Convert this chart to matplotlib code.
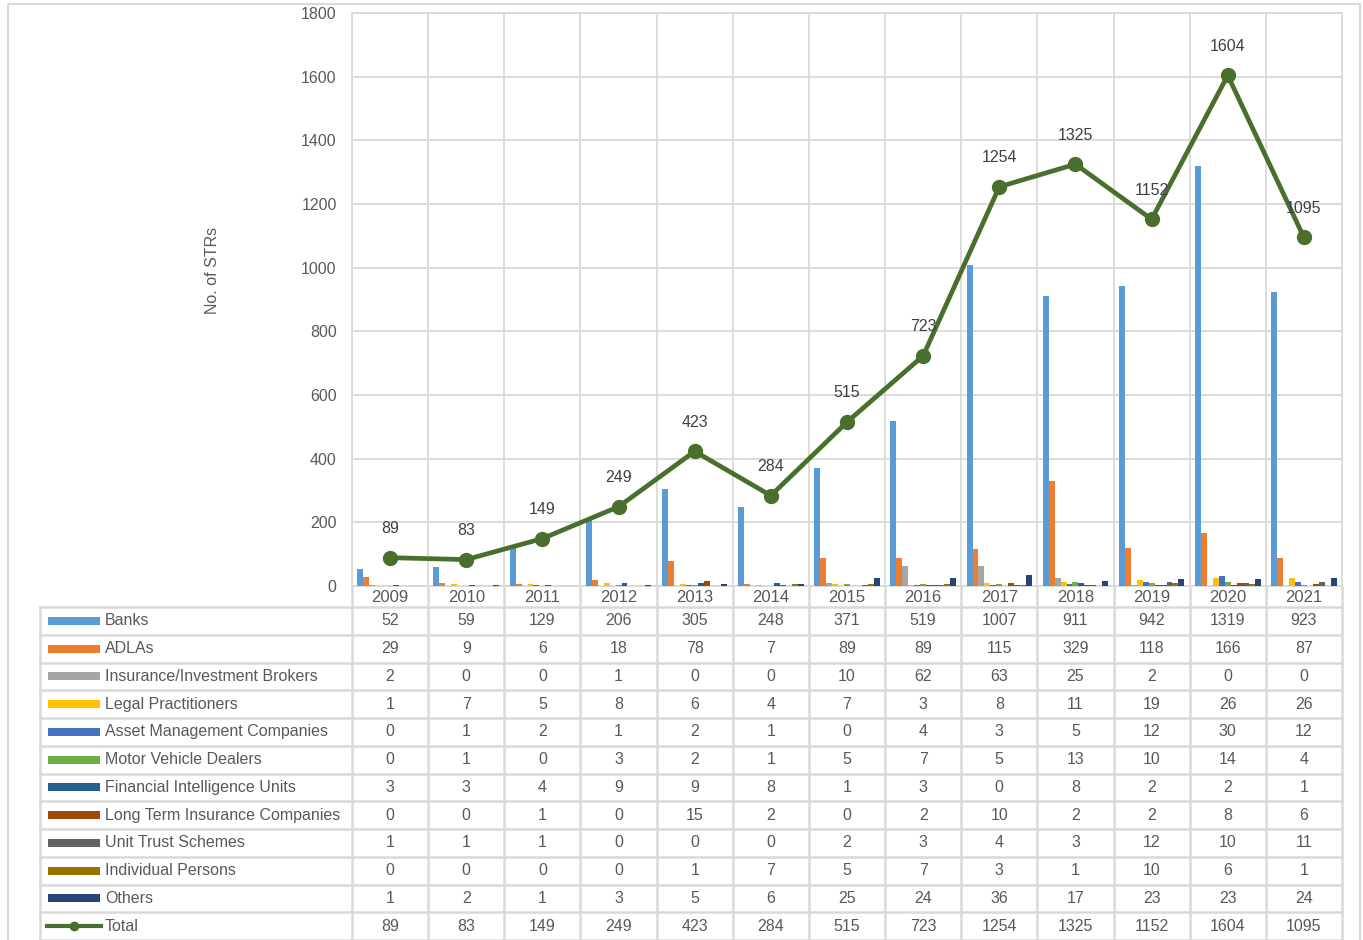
import numpy as np
import matplotlib
matplotlib.use("Agg")
import matplotlib.pyplot as plt
from matplotlib.patches import Rectangle

# ---------- DATA ----------
years = ["2009", "2010", "2011", "2012", "2013", "2014", "2015",
         "2016", "2017", "2018", "2019", "2020", "2021"]

series_names = [
    "Banks", "ADLAs", "Insurance/Investment Brokers", "Legal Practitioners",
    "Asset Management Companies", "Motor Vehicle Dealers",
    "Financial Intelligence Units", "Long Term Insurance Companies",
    "Unit Trust Schemes", "Individual Persons", "Others",
]

banks       = [52, 59, 129, 206, 305, 248, 371, 519, 1007, 911, 942, 1319, 923]
adlas       = [29, 9, 6, 18, 78, 7, 89, 89, 115, 329, 118, 166, 87]
insurance   = [2, 0, 0, 1, 0, 0, 10, 62, 63, 25, 2, 0, 0]
legal       = [1, 7, 5, 8, 6, 4, 7, 3, 8, 11, 19, 26, 26]
asset_mgmt  = [0, 1, 2, 1, 2, 1, 0, 4, 3, 5, 12, 30, 12]
motor       = [0, 1, 0, 3, 2, 1, 5, 7, 5, 13, 10, 14, 4]
fiu         = [3, 3, 4, 9, 9, 8, 1, 3, 0, 8, 2, 2, 1]
long_term   = [0, 0, 1, 0, 15, 2, 0, 2, 10, 2, 2, 8, 6]
unit_trust  = [1, 1, 1, 0, 0, 0, 2, 3, 4, 3, 12, 10, 11]
individual  = [0, 0, 0, 0, 1, 7, 5, 7, 3, 1, 10, 6, 1]
others      = [1, 2, 1, 3, 5, 6, 25, 24, 36, 17, 23, 23, 24]
total       = [89, 83, 149, 249, 423, 284, 515, 723, 1254, 1325, 1152, 1604, 1095]

series_values = [banks, adlas, insurance, legal, asset_mgmt, motor,
                 fiu, long_term, unit_trust, individual, others]

# ---------- STYLE ----------
COLORS = ["#5B9BD5", "#ED7D31", "#A5A5A5", "#FFC000", "#4472C4", "#70AD47",
          "#255E91", "#9E480E", "#636363", "#997300", "#264478"]
LINE_COLOR = "#4A6F2C"
GRID = "#D9D9D9"
TXT = "#595959"
FS = 11.5

plt.rcParams["font.family"] = ["Liberation Sans", "DejaVu Sans"]

W, H = 1363, 940
fig = plt.figure(figsize=(W / 100, H / 100), dpi=100)
fig.patch.set_facecolor("white")

# plot area in pixels
PL, PR, PT, PB = 352, 1342, 13, 586
ax = fig.add_axes([PL / W, 1 - PB / H, (PR - PL) / W, (PB - PT) / H])

n = len(years)
x = np.arange(n)
nser = len(series_values)
cluster = 0.86
bw = cluster / nser
for k, (vals, col) in enumerate(zip(series_values, COLORS)):
    off = -cluster / 2 + bw * (k + 0.5)
    ax.bar(x + off, vals, width=bw, color=col, zorder=3, linewidth=0)

ax.plot(x, total, color=LINE_COLOR, lw=3.4, marker="o", ms=10,
        markerfacecolor=LINE_COLOR, markeredgecolor=LINE_COLOR, zorder=5)
for xi, v in zip(x, total):
    ax.annotate(str(v), (xi, v), xytext=(0, 21), textcoords="offset points",
                ha="center", va="center", fontsize=FS, color="#404040", zorder=6)

ax.set_xlim(-0.5, n - 0.5)
ax.set_ylim(0, 1800)
ax.set_yticks(range(0, 1801, 200))
ax.set_xticks(np.arange(-0.5, n, 1.0))
ax.set_xticklabels([])
ax.tick_params(axis="both", length=0, labelsize=FS, labelcolor=TXT)
ax.tick_params(axis="y", pad=11)
ax.grid(True, color=GRID, lw=1.3, zorder=0)
for sp in ax.spines.values():
    sp.set_color(GRID)
    sp.set_linewidth(1.3)

fig.text(212 / W, 1 - 270 / H, "No. of STRs", rotation=90, ha="center",
         va="center", fontsize=FS, color=TXT)

# ---------- DATA TABLE (overlay in pixel coords) ----------
ov = fig.add_axes([0, 0, 1, 1], zorder=10)
ov.set_xlim(0, W)
ov.set_ylim(H, 0)
ov.axis("off")
ov.patch.set_alpha(0)

col_w = (PR - PL) / n
centers = [PL + col_w * (i + 0.5) for i in range(n)]
hdr_bot = 607
row_h = (940 - hdr_bot) / 12
TL = 40

# header row (years)
for c, yr in zip(centers, years):
    ov.text(c, (PB + hdr_bot) / 2 + 1, yr, ha="center", va="center",
            fontsize=12, color=TXT)

# grid lines
lw = 1.8
for i in range(n + 1):
    xx = PL + col_w * i
    ov.plot([xx, xx], [PB, H], color=GRID, lw=lw, solid_capstyle="butt")
for r in range(13):
    yy = hdr_bot + row_h * r
    ov.plot([TL, PR], [yy, yy], color=GRID, lw=lw)
ov.plot([TL, TL], [hdr_bot, H], color=GRID, lw=lw)

rows = list(zip(series_names, series_values, COLORS))
for r, (name, vals, col) in enumerate(rows):
    yc = hdr_bot + row_h * (r + 0.5)
    ov.add_patch(Rectangle((48, yc - 4), 52, 8, color=col, lw=0))
    ov.text(105, yc, name, ha="left", va="center", fontsize=FS, color=TXT)
    for c, v in zip(centers, vals):
        ov.text(c, yc, str(v), ha="center", va="center", fontsize=FS, color=TXT)

# total row
yc = hdr_bot + row_h * 11.5
ov.plot([47, 101], [yc, yc], color=LINE_COLOR, lw=3)
ov.plot([74], [yc], marker="o", ms=6, color=LINE_COLOR)
ov.text(105, yc, "Total", ha="left", va="center", fontsize=FS, color=TXT)
for c, v in zip(centers, total):
    ov.text(c, yc, str(v), ha="center", va="center", fontsize=FS, color=TXT)

# outer frame
ov.add_patch(Rectangle((8, 4), 1352, 940, fill=False, edgecolor=GRID, lw=1.5))

fig.savefig("out.png", dpi=100, facecolor="white")
